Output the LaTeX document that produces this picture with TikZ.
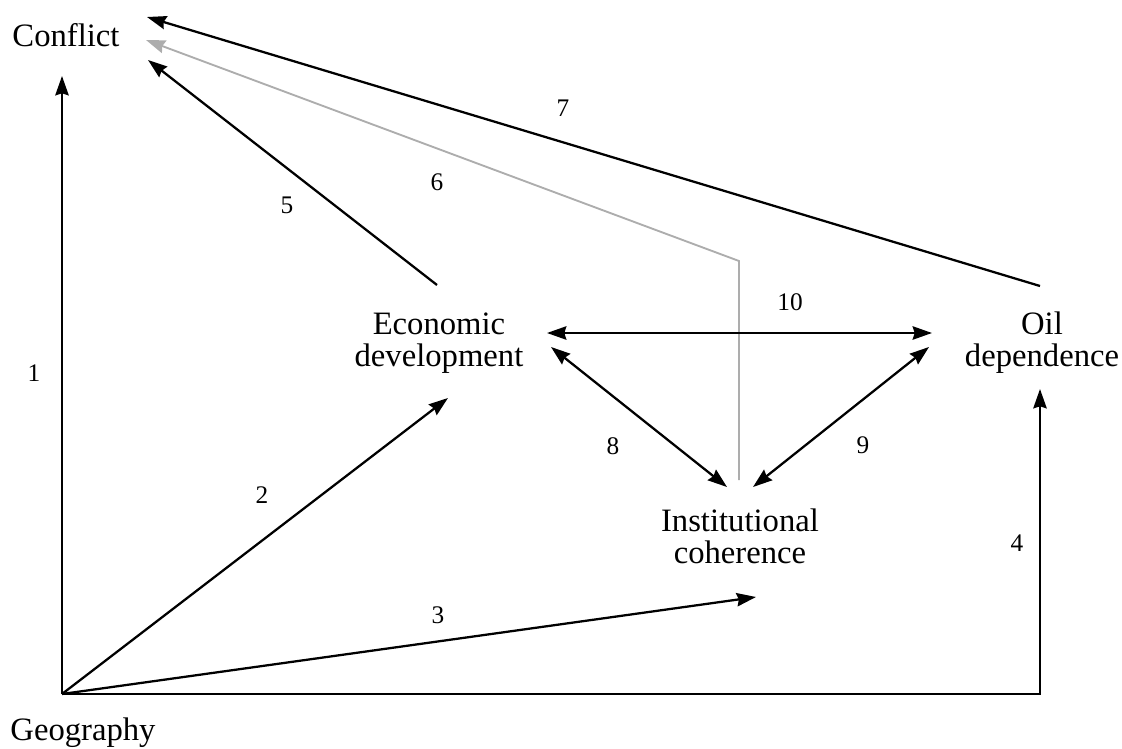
\documentclass[tikz,border=0pt]{standalone}
\usepackage{fontspec}
\setmainfont{Liberation Serif}
\usetikzlibrary{arrows.meta}
\tikzset{
  tip/.tip={Stealth[length=14.5pt,width=10pt,inset=1.5pt]},
}
\begin{document}
\begin{tikzpicture}[x=0.75pt,y=-0.75pt,
  lbl/.style={font=\fontsize{24.5}{24}\selectfont, align=center, inner sep=0pt},
  num/.style={font=\fontsize{19}{20}\selectfont, inner sep=0pt},
  conn/.style={line width=1.7pt, line join=miter},
  arr/.style={conn, -tip},
  darr/.style={conn, tip-tip},
  grayarr/.style={line width=1.4pt, draw=black!32, -{tip[black!32]}}]
\useasboundingbox (0,0) rectangle (1122,749);

% labels
\node[lbl] (conflict) at (66,35) {Conflict};
\node[lbl, anchor=base] (geo) at (83,740) {Geography};
\node[lbl] (econ) at (439,343) {Economic\\development};
\node[lbl] (oil) at (1042,343) {Oil\\dependence};
\node[lbl] (inst) at (740,536) {Institutional\\coherence};

% connector end points
\coordinate (O) at (62,694);
\coordinate (c1) at (62,76);
\coordinate (e2) at (448,398);
\coordinate (i3) at (756,597);
\coordinate (k4) at (1040,694);
\coordinate (o4) at (1040,389);
\coordinate (c5) at (148,60);
\coordinate (e5) at (437,285);
\coordinate (c6) at (146,40);
\coordinate (g6) at (739,261);
\coordinate (i6) at (739,480);
\coordinate (c7) at (147,17);
\coordinate (o7) at (1040,286);
\coordinate (e8) at (551,347);
\coordinate (i8) at (727,487);
\coordinate (i9) at (753,487);
\coordinate (o9) at (929,347);
\coordinate (e10) at (547,333);
\coordinate (o10) at (932,333);

% gray path (6) first
\draw[grayarr] (i6) -- (g6) -- (c6);

% black connectors
\draw[arr] (O) -- (c1);
\draw[arr] (O) -- (e2);
\draw[arr] (O) -- (i3);
\draw[arr] (O) -- (k4) -- (o4);
\draw[arr] (e5) -- (c5);
\draw[arr] (o7) -- (c7);
\draw[darr] (e8) -- (i8);
\draw[darr] (i9) -- (o9);
\draw[darr] (e10) -- (o10);

% numbers
\node[num] (n1) at (34,373) {1};
\node[num] (n2) at (262,495) {2};
\node[num] (n3) at (438,615) {3};
\node[num] (n4) at (1017,543) {4};
\node[num] (n5) at (287,205) {5};
\node[num] (n6) at (437,182) {6};
\node[num] (n7) at (563,108) {7};
\node[num] (n8) at (613,446) {8};
\node[num] (n9) at (863,445) {9};
\node[num] (n10) at (790,302) {10};
\end{tikzpicture}
\end{document}
